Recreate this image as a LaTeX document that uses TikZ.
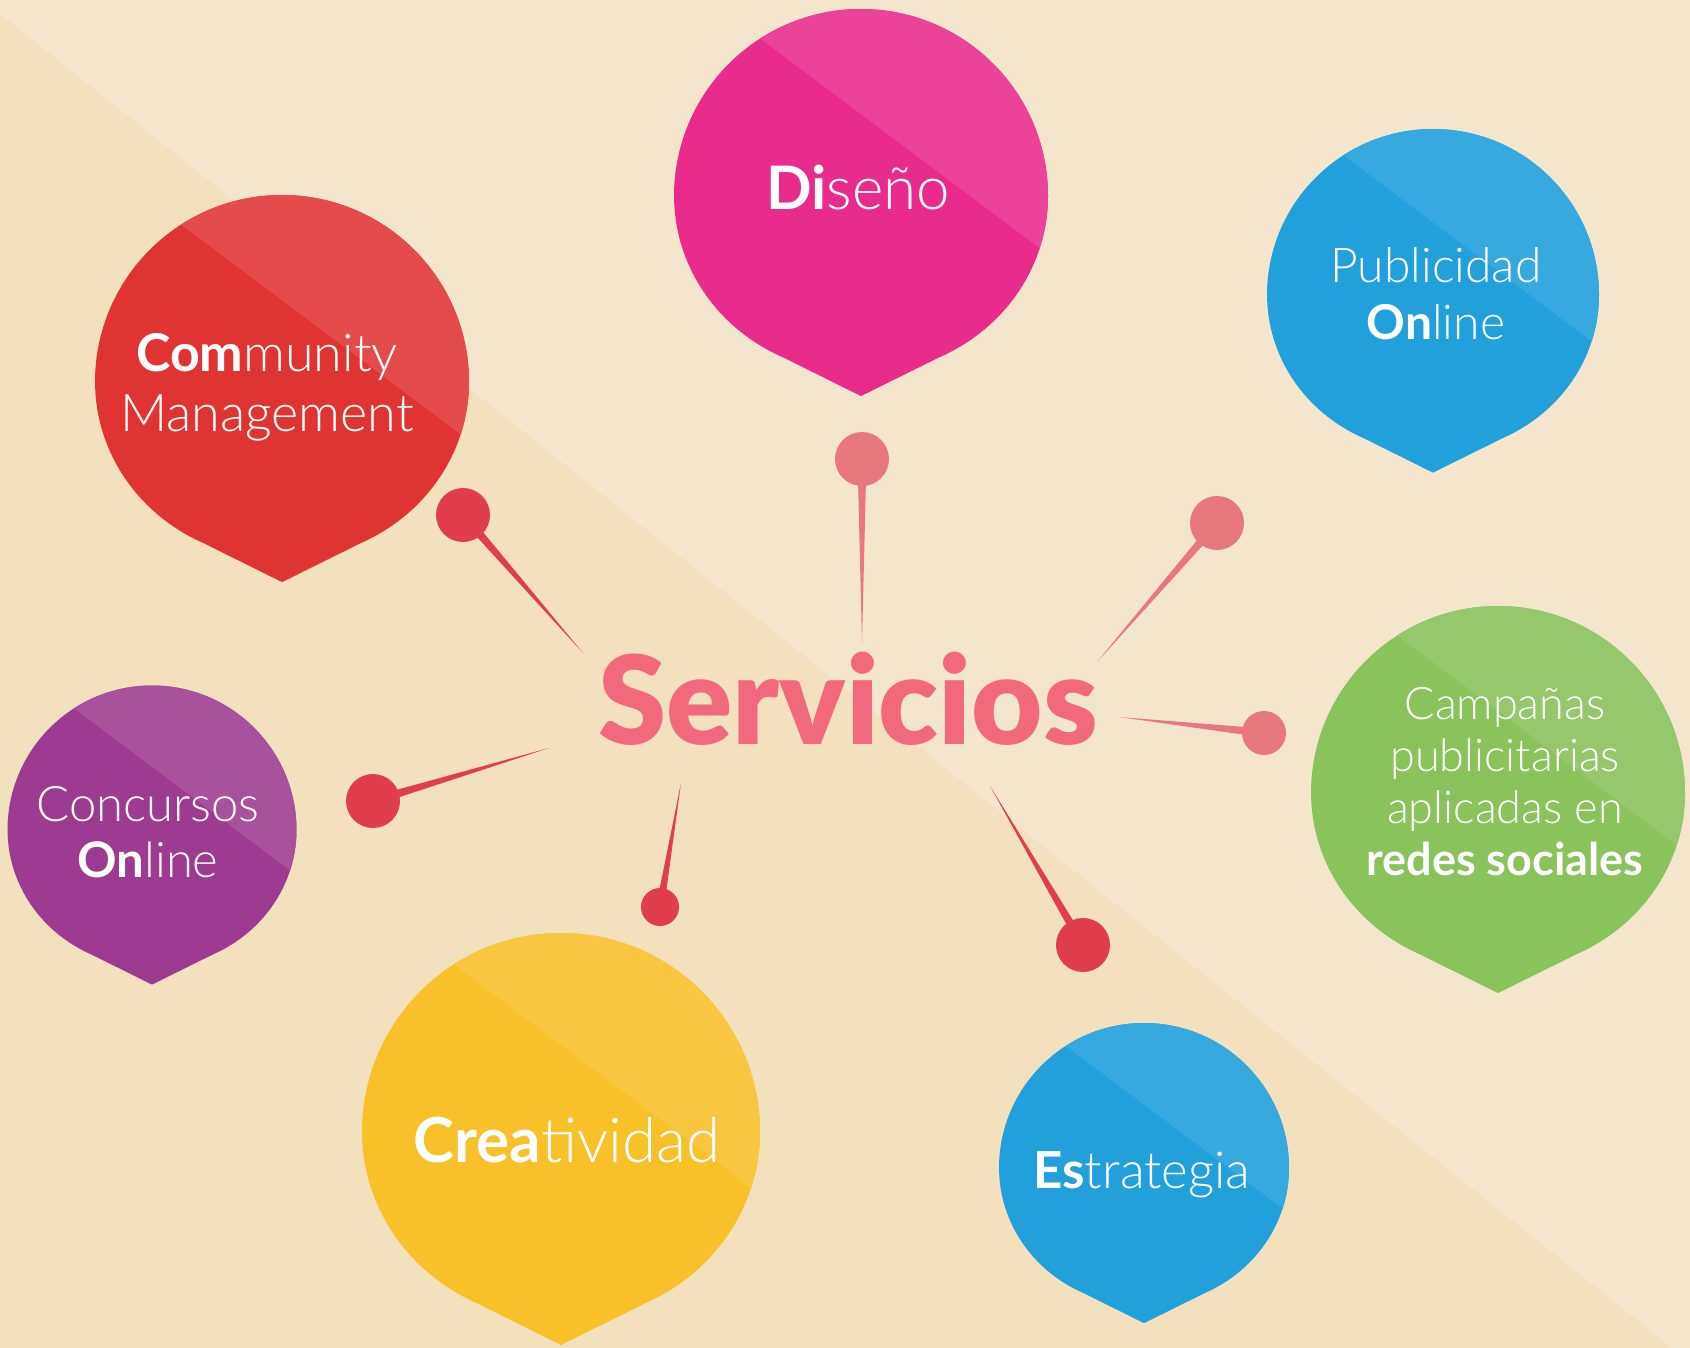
\documentclass[tikz,border=0pt]{standalone}
\usepackage{fontspec}
\setmainfont{Lato Light}[BoldFont={Lato Bold}]
\newfontfamily\blackfont{Lato Black}
\usetikzlibrary{calc}
\definecolor{bgdark}{HTML}{F3E0BC}
\definecolor{bglight}{HTML}{F4E6CC}
\definecolor{pinkD}{HTML}{E92C8C}\definecolor{pinkL}{HTML}{EA4397}
\definecolor{blueD}{HTML}{21A0DB}\definecolor{blueL}{HTML}{36A9DF}
\definecolor{redD}{HTML}{DF3431}\definecolor{redL}{HTML}{E34C4A}
\definecolor{greenD}{HTML}{89C35B}\definecolor{greenL}{HTML}{95C76C}
\definecolor{purpD}{HTML}{9D3B92}\definecolor{purpL}{HTML}{A8529E}
\definecolor{yellD}{HTML}{F8C029}\definecolor{yellL}{HTML}{F8C641}
\definecolor{servcol}{HTML}{F2697E}
\definecolor{dotpink}{HTML}{E8777E}
\definecolor{dotred}{HTML}{E03E4A}
\newcommand{\bub}[6]{%
  \pgfmathsetmacro\px{#2+0.35*#4*0.6}%
  \pgfmathsetmacro\py{#3-0.35*#4*0.8}%
  \pgfmathsetmacro\L{2.5*#4}%
  \pgfmathsetmacro\ry{0.95*#4}%
  \begin{scope}
    \clip (#2-#4,#3) arc[start angle=180,end angle=360,radius=#4]
      arc[start angle=0,end angle=65.2,x radius=#4,y radius=\ry]
      -- (#2,#3+1.07*#4)
      -- (#2-0.419*#4,#3+0.862*#4)
      arc[start angle=114.8,end angle=180,x radius=#4,y radius=\ry]
      -- cycle;
    \fill[#5] (#2-#4-5,#3-#4-5) rectangle (#2+#4+5,#3+1.1*#4);
    \fill[#6] (\px+0.8*\L,\py+0.6*\L) -- (\px-0.8*\L,\py-0.6*\L)
      -- ++(0.6*\L,-0.8*\L) -- ++(1.6*\L,1.2*\L) -- cycle;
  \end{scope}
  \coordinate (#1) at (#2,#3);
}
\newcommand{\pin}[6]{%
  \node[pindot, fill=#6, minimum size=#5pt] (#1) at (#2) {};
  \coordinate (#1t) at (#3);
  \fill[#6] (#1t) -- ($(#1)!#4pt!90:(#1t)$) -- ($(#1)!#4pt!-90:(#1t)$) -- cycle;
}
\tikzset{
  pindot/.style={circle, inner sep=0pt, draw=none},
  lbl/.style={text=white, align=center, anchor=base, inner sep=0pt},
}
\begin{document}
\begin{tikzpicture}[x=1pt,y=-1pt]
\useasboundingbox (0,0) rectangle (1690,1348);
\fill[bglight] (0,0) rectangle (1690,1348);
\fill[bgdark] (0,14) -- (1672,1348) -- (0,1348) -- cycle;

\bub{bDis}{861}{196}{187}{pinkD}{pinkL}
\bub{bPub}{1433}{295}{166}{blueD}{blueL}
\bub{bCM}{282}{382}{187}{redD}{redL}
\bub{bCamp}{1498}{793}{187}{greenD}{greenL}
\bub{bCon}{152}{830}{144.5}{purpD}{purpL}
\bub{bCre}{561}{1132}{199}{yellD}{yellL}
\bub{bEst}{1144}{1168}{145}{blueD}{blueL}

\pin{pDis}{862,459}{862,643}{4.5}{54}{dotpink}
\pin{pPub}{1217,523}{1097,662}{4.5}{54}{dotpink}
\pin{pCamp}{1264,733}{1119,717}{4.5}{44}{dotpink}
\pin{pCM}{463,515}{583,653}{4.5}{54}{dotred}
\pin{pCon}{373,801}{549,748}{4.5}{54}{dotred}
\pin{pCre}{660,907}{681,783}{4}{38}{dotred}
\pin{pEst}{1083,945}{990,786}{4.5}{54}{dotred}

\node[anchor=base, inner sep=0pt, text=servcol, font=\fontsize{123}{130}\selectfont\blackfont] (serv) at (848,744) {Servicios};

\node[lbl, font=\fontsize{60}{70}\selectfont] (tDis) at (858,210) {\textbf{Di}seño};
\node[lbl, font=\fontsize{48}{57}\selectfont] (tPub) at (1436,340) {Publicidad\\\textbf{On}line};
\node[lbl, font=\fontsize{52}{59}\selectfont] (tCM) at (267,431) {\textbf{Com}munity\\Management};
\node[lbl, font=\fontsize{45}{52}\selectfont] (tCamp) at (1505,875) {Campañas\\publicitarias\\aplicadas en\\\textbf{redes sociales}};
\node[lbl, font=\fontsize{49}{56}\selectfont] (tCon) at (148,877) {Concursos\\\textbf{On}line};
\node[lbl, font=\fontsize{62}{70}\selectfont] (tCre) at (567,1162) {\textbf{Crea}tividad};
\node[lbl, font=\fontsize{51}{60}\selectfont] (tEst) at (1142,1188) {\textbf{Es}trategia};
\end{tikzpicture}
\end{document}
